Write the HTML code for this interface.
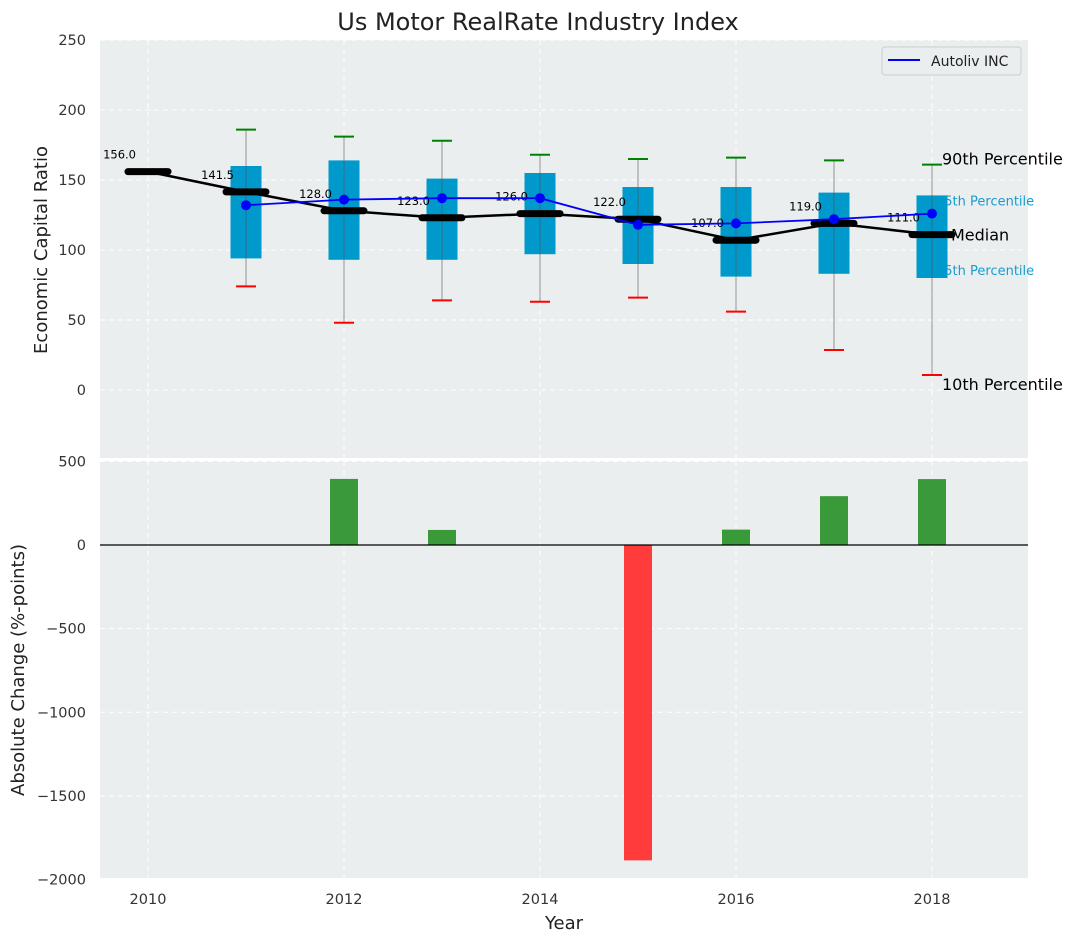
<!DOCTYPE html>
<html><head><meta charset="utf-8"><style>
body{margin:0;background:#fff;}
svg text{font-family:"DejaVu Sans","Liberation Sans",sans-serif;}
</style></head><body>
<svg id="chart" width="1077" height="942" xmlns="http://www.w3.org/2000/svg">
<text x="538" y="30" font-size="24" text-anchor="middle" fill="#222">Us Motor RealRate Industry Index</text>
<rect x="100" y="40" width="928" height="418" fill="#eaeeef"/>
<rect x="100" y="461" width="928" height="417" fill="#eaeeef"/>
<g id="grid"></g>
<g id="top"></g>
<g id="bottom"></g>
<g id="axes"></g>
<text x="47" y="250" font-size="18" fill="#222" text-anchor="middle" transform="rotate(-90 47 250)">Economic Capital Ratio</text>
<text x="24" y="670" font-size="18" fill="#222" text-anchor="middle" transform="rotate(-90 24 670)">Absolute Change (%-points)</text>
<text x="564" y="929" font-size="18" fill="#222" text-anchor="middle">Year</text>
<g>
<rect x="882" y="47" width="139" height="28" rx="3" fill="#eaeeef" stroke="#ccc"/>
<line x1="888" y1="60" x2="920" y2="60" stroke="#0000ff" stroke-width="2"/>
<text x="931" y="66" font-size="14" fill="#222">Autoliv INC</text>
</g>
</svg>
<script>
const years=[2010,2011,2012,2013,2014,2015,2016,2017,2018];
const medians=[156,141.5,128,123,126,122,107,119,111];
const boxYears=[2011,2012,2013,2014,2015,2016,2017,2018];
const p10=[74,48,64,63,66,56,28.6,10.7];
const p25=[94,93,93,97,90,81,83,80];
const p75=[160,164,151,155,145,145,141,139];
const p90=[186,181,178,168,165,166,164,161];
const company=[132,136,137,137,118,119,122,126];
const changeYears=[2012,2013,2015,2016,2017,2018];
const changes=[395,90,-1885,92,292,394];
const topTicks=[0,50,100,150,200,250];
const botTicks=[-2000,-1500,-1000,-500,0,500];
const xTicks=[2010,2012,2014,2016,2018];

const NS='http://www.w3.org/2000/svg';
const X=v=>148+(v-2010)*98;
const YT=v=>390-v*1.4;
const YB=v=>545-v*0.1673;
function mk(parent,tag,attrs){const e=document.createElementNS(NS,tag);for(const k in attrs)e.setAttribute(k,attrs[k]);document.getElementById(parent).appendChild(e);return e;}

xTicks.forEach(t=>{
  let g=mk('grid','line',{x1:X(t),x2:X(t),y1:40,y2:458,stroke:'#fff','stroke-dasharray':'5,4'});
  
  
  g=mk('grid','line',{x1:X(t),x2:X(t),y1:461,y2:878,stroke:'#fff','stroke-dasharray':'5,4'});
  
  
  const tl=mk('axes','text',{x:X(t),y:904,'font-size':14.5,'text-anchor':'middle',fill:'#333'});tl.textContent=t;
  
  
});
topTicks.forEach(t=>{
  const g=mk('grid','line',{x1:100,x2:1028,y1:YT(t),y2:YT(t),stroke:'#fff','stroke-dasharray':'5,4'});
  
  
  const tl=mk('axes','text',{x:86,y:YT(t)+5,'font-size':14.5,'text-anchor':'end',fill:'#333'});tl.textContent=t;
  
  
});
botTicks.forEach(t=>{
  const g=mk('grid','line',{x1:100,x2:1028,y1:YB(t),y2:YB(t),stroke:'#fff','stroke-dasharray':'5,4'});
  
  
  const tl=mk('axes','text',{x:86,y:YB(t)+5,'font-size':14.5,'text-anchor':'end',fill:'#333'});tl.textContent=t===0?'0':String(t).replace('-','\u2212');
  
  
});

const last=boxYears.length-1;
[['90th Percentile',X(2018)+10,YT(p90[last])+0,16,'#000'],['75th Percentile',X(2018)+4,YT(p75[last])+10,13,'#1a9ccc'],['Median',X(2018)+19,YT(medians[medians.length-1])+6,16,'#000'],['25th Percentile',X(2018)+4,YT(p25[last])-3,13,'#1a9ccc'],['10th Percentile',X(2018)+10,YT(p10[last])+15,16,'#000']].forEach(a=>{
  const t=mk('top','text',{x:a[1],y:a[2],'font-size':a[3],fill:a[4]});t.textContent=a[0];
  
  
});

boxYears.forEach((y,i)=>{
  const x=X(y);
  const b=mk('top','rect',{x:x-15.5,y:YT(p75[i]),width:31,height:YT(p25[i])-YT(p75[i]),fill:'#0099cc'});
  
  
  const w=mk('top','line',{x1:x,x2:x,y1:YT(p90[i]),y2:YT(p10[i]),stroke:'#555','stroke-opacity':0.6,'stroke-width':1});
  
  
  const c1=mk('top','line',{x1:x-10,x2:x+10,y1:YT(p90[i]),y2:YT(p90[i]),stroke:'green','stroke-width':2});
  
  
  const c2=mk('top','line',{x1:x-10,x2:x+10,y1:YT(p10[i]),y2:YT(p10[i]),stroke:'red','stroke-width':2});
  
  
});
const ml=mk('top','polyline',{points:years.map((y,i)=>X(y)+','+YT(medians[i])).join(' '),fill:'none',stroke:'#000','stroke-width':2.5});


years.forEach((y,i)=>{
  const s=mk('top','line',{x1:X(y)-20,x2:X(y)+20,y1:YT(medians[i]),y2:YT(medians[i]),stroke:'#000','stroke-width':7,'stroke-linecap':'round'});
  
  
  const t=mk('top','text',{x:X(y)-12,y:YT(medians[i])-13,'font-size':11.5,'text-anchor':'end',fill:'#000'});t.textContent=medians[i].toFixed(1);
  
  
});
const cl=mk('top','polyline',{points:boxYears.map((y,i)=>X(y)+','+YT(company[i])).join(' '),fill:'none',stroke:'#0000ff','stroke-width':1.8});


boxYears.forEach((y,i)=>{
  const p=mk('top','circle',{cx:X(y),cy:YT(company[i]),r:5,fill:'#0000ff'});
  
  
});

changeYears.forEach((y,i)=>{
  const v=changes[i];const y0=YB(0),y1=YB(v);
  const r=mk('bottom','rect',{x:X(y)-14,y:Math.min(y0,y1),width:28,height:Math.abs(y1-y0),fill:v>=0?'#3a9a3a':'#ff3b3b'});
  
  
});
const z=mk('bottom','line',{x1:100,x2:1028,y1:YB(0),y2:YB(0),stroke:'#000','stroke-width':1.2});


</script>
</body></html>
